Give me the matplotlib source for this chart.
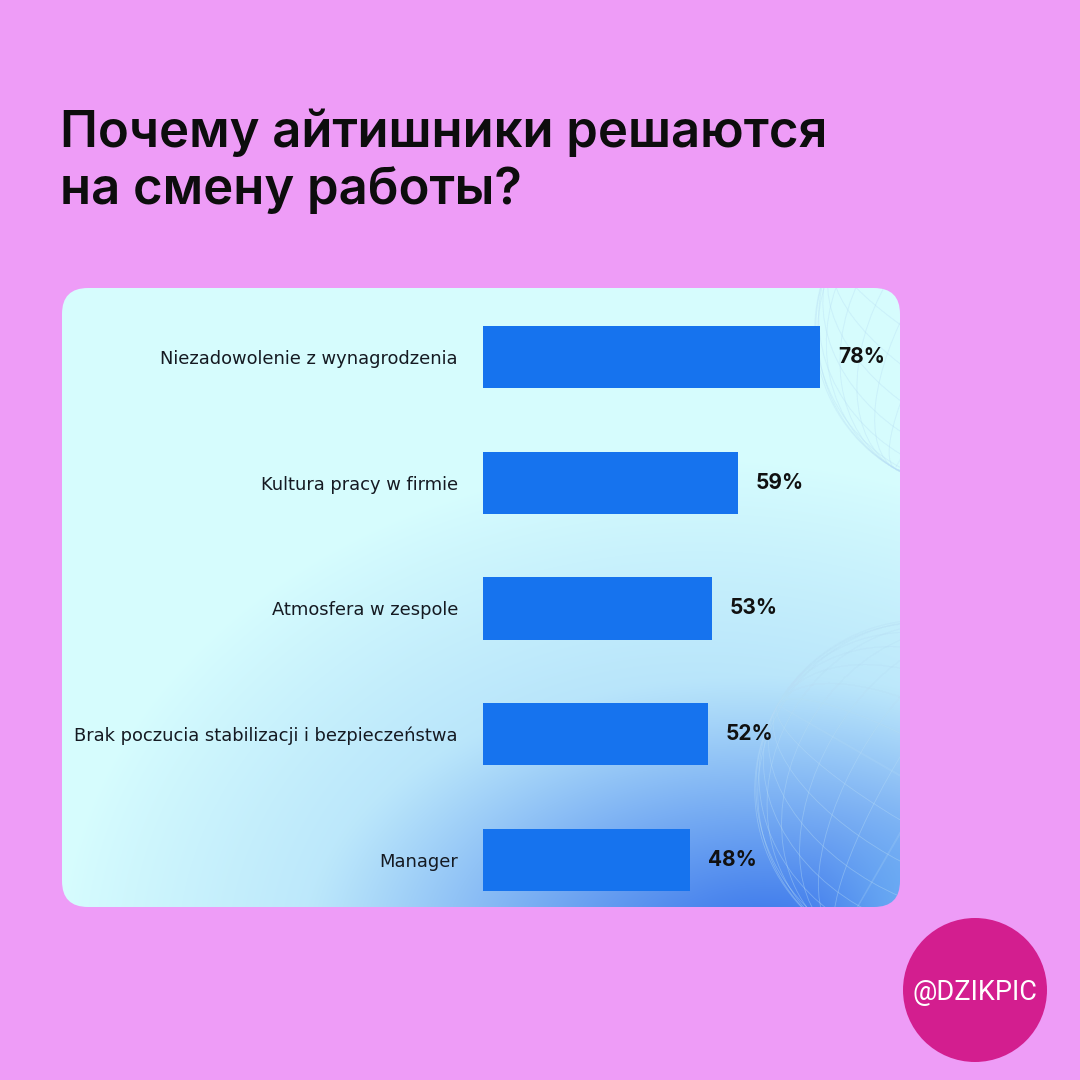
import numpy as np
import matplotlib
matplotlib.use("Agg")
import matplotlib.pyplot as plt
from matplotlib.patches import FancyBboxPatch, Circle, Ellipse

categories = ["Niezadowolenie z wynagrodzenia", "Kultura pracy w firmie",
              "Atmosfera w zespole", "Brak poczucia stabilizacji i bezpieczeństwa",
              "Manager"]
values = [78, 59, 53, 52, 48]
value_labels = ["78%", "59%", "53%", "52%", "48%"]
title = "Почему айтишники решаются\nна смену работы?"
handle = "@DZIKPIC"

BG = "#EE9CF7"
BAR = "#1673EE"

fig = plt.figure(figsize=(10.8, 10.8), dpi=100)
fig.patch.set_facecolor(BG)

bg = fig.add_axes([0, 0, 1, 1])
bg.set_xlim(0, 1080)
bg.set_ylim(1080, 0)
bg.axis("off")

# card with gradient
x0, y0, x1, y1 = 62, 288, 900, 907
card = FancyBboxPatch((x0, y0), x1 - x0, y1 - y0,
                      boxstyle="round,pad=0,rounding_size=26",
                      facecolor="none", edgecolor="none")
bg.add_patch(card)
W, H = 420, 310
xs = np.linspace(x0, x1, W)
ys = np.linspace(y0, y1, H)
X, Y = np.meshgrid(xs, ys)
c0 = np.array([0.84, 0.99, 0.995])
cm = np.array([0.60, 0.80, 0.97])
c1 = np.array([0.20, 0.44, 0.92])
r1 = np.sqrt(((X - 700) / 640) ** 2 + ((Y - 960) / 500) ** 2)
t1 = np.clip(1 - r1, 0, 1) ** 0.9
r2 = np.sqrt(((X - 770) / 470) ** 2 + ((Y - 945) / 270) ** 2)
t2 = np.clip(1 - r2, 0, 1) ** 1.2
img = c0 * (1 - t1[..., None]) + cm * t1[..., None]
img = img * (1 - t2[..., None]) + c1 * t2[..., None]
r3 = np.sqrt(((X - 905) / 90) ** 2 + ((Y - 910) / 120) ** 2)
t3 = np.clip(1 - r3, 0, 1) ** 1.2 * 0.5
img = img * (1 - t3[..., None]) + np.array([0.45, 0.75, 0.97]) * t3[..., None]
im = bg.imshow(np.clip(img, 0, 1), extent=(x0, x1, y1, y0), interpolation="bilinear", zorder=1)
im.set_clip_path(card)

# faint decorative wireframe spheres
for cx, cy, r in [(975, 330, 160), (925, 790, 170)]:
    for k in range(14):
        ang = k * np.pi / 14
        for w, h in [(2 * r, 2 * r * abs(np.cos(ang)) + 1), (2 * r * abs(np.cos(ang)) + 1, 2 * r)]:
            e = Ellipse((cx, cy), w, h, angle=30, fill=False, edgecolor="#b8def6",
                        lw=0.6, alpha=0.22, zorder=2)
            e.set_clip_path(card)
            bg.add_patch(e)

# title
for i, line in enumerate(title.split("\n")):
    bg.text(60, 133 + 57 * i, line, fontsize=36.6, fontweight="semibold",
            family="Inter", color="#0d0d0d", va="center", ha="left")

# handle circle
bg.add_patch(Circle((975, 990), 72, facecolor="#D31E8F", edgecolor="none", zorder=3))
bg.text(975, 992, handle, fontsize=19.5, color="white", ha="center", va="center",
        family="Roboto", fontweight="normal", zorder=4)

# bar axes
px_per = 337 / 78
left = 483
width_px = px_per * 100
top = 357 - 62.85
height_px = 5 * 125.7
ax = fig.add_axes([left / 1080, 1 - (top + height_px) / 1080, width_px / 1080, height_px / 1080])
ax.set_facecolor("none")
ypos = np.arange(len(categories))
ax.barh(ypos, values, height=0.495, color=BAR, zorder=3)
ax.set_xlim(0, 100)
ax.set_ylim(len(categories) - 0.5, -0.5)
ax.set_yticks(ypos)
ax.set_yticklabels(categories, fontsize=12.9, family="DejaVu Sans", color="#151a22")
ax.tick_params(axis="y", length=0, pad=18)
ax.set_xticks([])
for s in ax.spines.values():
    s.set_visible(False)
for yv, v, lab in zip(ypos, values, value_labels):
    ax.annotate(lab, (v, yv), xytext=(13, 0), textcoords="offset points",
                ha="left", va="center", fontsize=15, fontweight="bold",
                family="Inter", color="#111111")

fig.savefig("out.png", dpi=100, facecolor=BG)
